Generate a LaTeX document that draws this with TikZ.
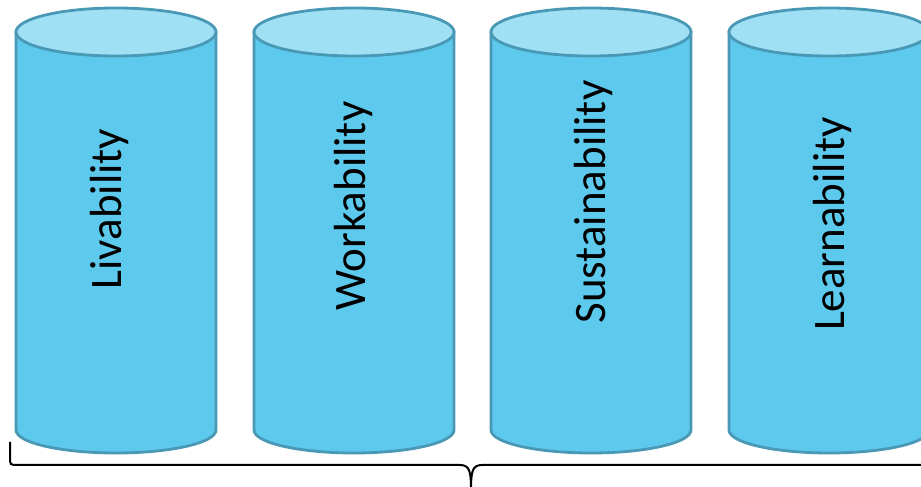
\documentclass[tikz,border=0pt]{standalone}
\usepackage{fontspec}
\setmainfont{Carlito}
\definecolor{cylside}{RGB}{93,202,237}
\definecolor{cyltop}{RGB}{160,224,244}
\definecolor{cylline}{RGB}{72,152,182}
\begin{document}
\begin{tikzpicture}[x=1pt,y=1pt,
  cylbody/.style={fill=cylside, draw=cylline, line width=2.8pt},
  cylcap/.style={fill=cyltop, draw=cylline, line width=2.8pt},
  lbl/.style={rotate=90, anchor=base, inner sep=0pt, font=\fontsize{45}{50}\selectfont},
  bracestyle/.style={draw=black, line width=2pt}]
\useasboundingbox (0,0) rectangle (921,487);
\clip (0,0) rectangle (921,487);
\foreach \xl in {16,254,491,729} {
  \path[cylbody] (\xl,455) -- (\xl,57) arc[start angle=180,end angle=360,x radius=100,y radius=23] -- (\xl+200,455) -- cycle;
  \path[cylcap] (\xl+100,455) ellipse[x radius=100, y radius=24];
}
\node[lbl] (t1) at (121,278) {Livability};
\node[lbl] (t2) at (365,281) {Workability};
\node[lbl] (t3) at (605,285) {Sustainability};
\node[lbl] (t4) at (844,263) {Learnability};
\coordinate (bl) at (10,45);
\coordinate (btip) at (471,-4);
\coordinate (br) at (932,45);
\draw[bracestyle] (bl) -- (10,30) .. controls (10,22) .. (18,22) -- (460,22) .. controls (470,22) and (471,15) .. (btip);
\draw[bracestyle] (btip) .. controls (471,15) and (472,22) .. (482,22) -- (924,22) .. controls (932,22) .. (932,30) -- (br);
\end{tikzpicture}
\end{document}
